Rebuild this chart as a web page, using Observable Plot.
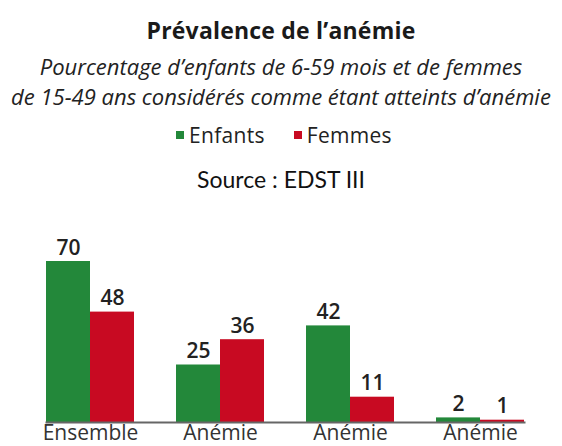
<!DOCTYPE html>
<html>
<head>
<meta charset="utf-8">
<script src="https://cdn.jsdelivr.net/npm/d3@7"></script>
<script src="https://cdn.jsdelivr.net/npm/@observablehq/plot@0.6"></script>
<style>
  html, body { margin: 0; padding: 0; background: #fff; overflow: hidden; }
  body { width: 562px; height: 446px; position: relative; font-family: "Open Sans", sans-serif; }
  .abs { position: absolute; left: 0; width: 562px; text-align: center; white-space: nowrap; }
  #title { top: 19px; font-size: 23px; line-height: 23px; font-weight: 700; color: #1a1a1a; letter-spacing: 0.2px; }
  .sub { font-size: 22px; line-height: 22px; font-style: italic; color: #222; }
  #sub1 { top: 55px; }
  #sub2 { top: 85px; }
  #legend { top: 118px; display: flex; justify-content: center; padding-left: 6px; box-sizing: border-box; }
  #legend [class$="-swatch"] { margin-right: 29px !important; }
  #legend [class$="-swatch"]:last-child { margin-right: 0 !important; }
  #legend [class$="-swatch"] svg { margin-right: 5px !important; }
  #source { top: 168px; font-size: 23px; line-height: 23px; color: #111; font-family: Lato, sans-serif; }
  #chart { position: absolute; left: 0; top: 190px; }
</style>
</head>
<body>
<div id="title" class="abs">Prévalence de l’anémie</div>
<div id="sub1" class="abs sub">Pourcentage d’enfants de 6-59 mois et de femmes</div>
<div id="sub2" class="abs sub">de 15-49 ans considérés comme étant atteints d’anémie</div>
<div id="legend" class="abs"></div>
<div id="source" class="abs">Source : EDST III</div>
<div id="chart"></div>
<script>
const categories = ["Ensemble", "Anémie légère", "Anémie modérée", "Anémie sévère"];
const series = ["Enfants", "Femmes"];
const enfants = [70, 25, 42, 2];
const femmes = [48, 36, 11, 1];
const colors = ["#23883a", "#c80a22"];

const data = [];
categories.forEach((c, i) => {
  data.push({cat: c, serie: "Enfants", value: enfants[i]});
  data.push({cat: c, serie: "Femmes", value: femmes[i]});
});

const legend = Plot.legend({
  color: {domain: series, range: colors},
  swatchSize: 8,
  style: {fontSize: "21px", fontFamily: "Open Sans, sans-serif", color: "#222", letterSpacing: "0.3px"}
});
document.getElementById("legend").append(legend);

const chart = Plot.plot({
  width: 562,
  height: 256,
  marginLeft: 39,
  marginRight: 32,
  marginTop: 2,
  marginBottom: 24,
  style: {fontFamily: "Open Sans, sans-serif", overflow: "visible"},
  fx: {domain: categories, paddingInner: 0.324, paddingOuter: 0.047, label: null},
  x: {domain: series, padding: 0, axis: null},
  y: {domain: [0, 100], axis: null},
  color: {domain: series, range: colors},
  marks: [
    Plot.barY(data, {fx: "cat", x: "serie", y: "value", fill: "serie"}),
    Plot.text(data, {fx: "cat", x: "serie", y: "value", text: d => String(d.value), dy: -7, lineAnchor: "bottom", fontSize: 21, fontWeight: 600, fill: "#222"}),
    Plot.frame({anchor: "bottom", stroke: "#666", strokeWidth: 2, facet: "super"}),
    Plot.axisFx({anchor: "bottom", tickSize: 0, tickPadding: 2.5, fontSize: 21, fontWeight: 500, fill: "#333", tickFormat: d => d.split(" ")[0], label: null})
  ]
});
document.getElementById("chart").append(chart);
</script>
</body>
</html>
